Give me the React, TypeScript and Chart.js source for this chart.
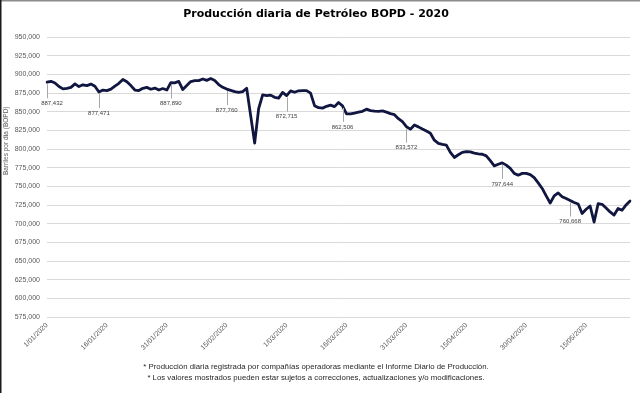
import React, { useEffect, useRef } from "react";
import { Chart, registerables } from "chart.js";

Chart.register(...registerables);

const TITLE = "Producción diaria de Petróleo BOPD - 2020";
const Y_TITLE = "Barriles por día (BOPD)";
const FOOTNOTES = [
  "* Producción diaria registrada por compañías operadoras mediante el Informe Diario de Producción.",
  "* Los valores mostrados pueden estar sujetos a correcciones, actualizaciones y/o modificaciones.",
];

const START_YEAR = 2020;
const TICK_EVERY = 15;
const Y_MIN = 575000;
const Y_MAX = 950000;
const Y_STEP = 25000;

// Daily production (BOPD), 1 Jan 2020 onwards
const production = [
  889700, 890900, 888600, 883900, 880800, 881600, 882800, 887500, 883900, 886300,
  885200, 887200, 884300, 876500, 879200, 878500, 880500, 884500, 888200, 893300,
  890300, 885200, 879200, 878500, 881500, 882800, 880300, 881900, 879200, 881200,
  879200, 889200, 888800, 890900, 879800, 885200, 890600, 891900, 891900, 894000,
  892200, 894600, 891900, 886600, 882900, 880500, 878800, 877200, 876200, 877200,
  881600, 844900, 808200, 854300, 872700, 871800, 872400, 869500, 868400, 876100,
  871800, 878100, 876200, 878200, 878500, 878500, 875100, 858300, 855600, 855000,
  857400, 859000, 857000, 862500, 858000, 847200, 847200, 848300, 849500, 850700,
  853600, 851600, 850900, 850700, 851300, 849600, 847600, 846200, 840900, 836800,
  830100, 826800, 832400, 829900, 827000, 824300, 821400, 812000, 807900, 806500,
  805500, 795800, 788900, 792500, 795800, 796800, 796500, 794800, 793800, 793200,
  791100, 784700, 777700, 779800, 781700, 778600, 774300, 767600, 765200, 767600,
  767600, 765900, 761900, 754800, 747400, 737400, 728000, 737400, 741400, 736400,
  734000, 731300, 728600, 726600, 713900, 719500, 723900, 702400, 726900, 726200,
  721200, 715900, 711800, 720600, 718200, 725300, 730700,
];

// Annotated points (index into production) and their label texts
const labelIndices = [0, 13, 31, 45, 60, 74, 90, 114, 131];
const labelTexts = ["887,432", "877,471", "887,890", "877,760", "872,715", "862,506", "833,572", "797,644", "760,668"];

function dateLabel(i: number): string {
  const d = new Date(Date.UTC(START_YEAR, 0, 1 + i));
  const day = d.getUTCDate();
  const mm = String(d.getUTCMonth() + 1).padStart(2, "0");
  return `${day}/${mm}/${d.getUTCFullYear()}`;
}

const categories = production.map((_, i) => dateLabel(i));

const SMALL_FONT = "'Liberation Sans', Arial, sans-serif";

const extrasPlugin = {
  id: "extras",
  afterDatasetsDraw(chart: any) {
    const ctx = chart.ctx;
    const meta = chart.getDatasetMeta(0);
    ctx.save();
    ctx.font = `6px ${SMALL_FONT}`;
    ctx.textAlign = "center";
    ctx.textBaseline = "middle";
    labelIndices.forEach((idx, k) => {
      const pt = meta.data[idx];
      if (!pt) return;
      ctx.strokeStyle = "#a6a6a6";
      ctx.lineWidth = 1;
      ctx.beginPath();
      ctx.moveTo(Math.round(pt.x) + 0.5, pt.y + 2);
      ctx.lineTo(Math.round(pt.x) + 0.5, pt.y + 16);
      ctx.stroke();
      ctx.fillStyle = "#404040";
      ctx.fillText(labelTexts[k], pt.x + (k === 0 ? 5 : 0), pt.y + 21);
    });
    ctx.restore();
  },
  afterDraw(chart: any) {
    const ctx = chart.ctx;
    const area = chart.chartArea;
    ctx.save();
    // y-axis title
    ctx.translate(6, area.top + (area.bottom - area.top) * 0.37);
    ctx.rotate(-Math.PI / 2);
    ctx.font = `6.5px ${SMALL_FONT}`;
    ctx.fillStyle = "#595959";
    ctx.textAlign = "center";
    ctx.textBaseline = "middle";
    ctx.fillText(Y_TITLE, 0, 0);
    ctx.restore();
    // frame edges
    ctx.save();
    ctx.fillStyle = "#8c8c8c";
    ctx.fillRect(0, 0, chart.width, 1.5);
    ctx.fillStyle = "#1a1a1a";
    ctx.fillRect(0, 0, 1.5, chart.height);
    ctx.restore();
  },
};

export default function App() {
  const canvasRef = useRef<HTMLCanvasElement | null>(null);

  useEffect(() => {
    if (!canvasRef.current) return;
    const chart = new Chart(canvasRef.current, {
      type: "line",
      data: {
        labels: categories,
        datasets: [
          {
            data: production,
            borderColor: "#10163f",
            borderWidth: 2.8,
            pointRadius: 0,
            tension: 0,
            borderJoinStyle: "round",
            borderCapStyle: "round",
            fill: false,
          },
        ],
      },
      options: {
        animation: false,
        responsive: false,
        maintainAspectRatio: false,
        layout: { padding: { left: 0, right: 8, top: 0, bottom: 0 } },
        plugins: {
          legend: { display: false },
          tooltip: { enabled: false },
          title: {
            display: true,
            text: TITLE,
            color: "#000000",
            font: { family: "'DejaVu Sans', Verdana, sans-serif", size: 11, weight: "bold", lineHeight: 1.2 },
            padding: { top: 8, bottom: 16 },
          },
          subtitle: {
            display: true,
            position: "bottom",
            text: FOOTNOTES,
            color: "#262626",
            font: { family: SMALL_FONT, size: 7.8, lineHeight: 1.4 },
            padding: { top: 0, bottom: 10 },
          },
        },
        scales: {
          x: {
            type: "category",
            grid: { display: false, drawTicks: false },
            border: { display: false },
            ticks: {
              autoSkip: false,
              maxRotation: 45,
              minRotation: 45,
              padding: 4,
              color: "#595959",
              font: { family: SMALL_FONT, size: 7 },
              callback: (_v: any, i: number) => (i % TICK_EVERY === 0 ? categories[i] : ""),
            },
            afterFit: (scale: any) => {
              scale.height = 44;
            },
          },
          y: {
            min: Y_MIN,
            max: Y_MAX,
            grid: { color: "#d9d9d9", lineWidth: 1, drawTicks: false },
            border: { display: false },
            ticks: {
              stepSize: Y_STEP,
              padding: 7,
              color: "#595959",
              font: { family: SMALL_FONT, size: 7 },
              callback: (v: any) => Number(v).toLocaleString("en-US"),
            },
            afterFit: (scale: any) => {
              scale.width = 47;
            },
          },
        },
      },
      plugins: [extrasPlugin],
    });
    return () => chart.destroy();
  }, []);

  return (
    <div style={{ position: "fixed", left: 0, top: 0, width: 640, height: 393, background: "#ffffff" }}>
      <canvas ref={canvasRef} width={640} height={393} style={{ width: 640, height: 393, display: "block" }} />
    </div>
  );
}
